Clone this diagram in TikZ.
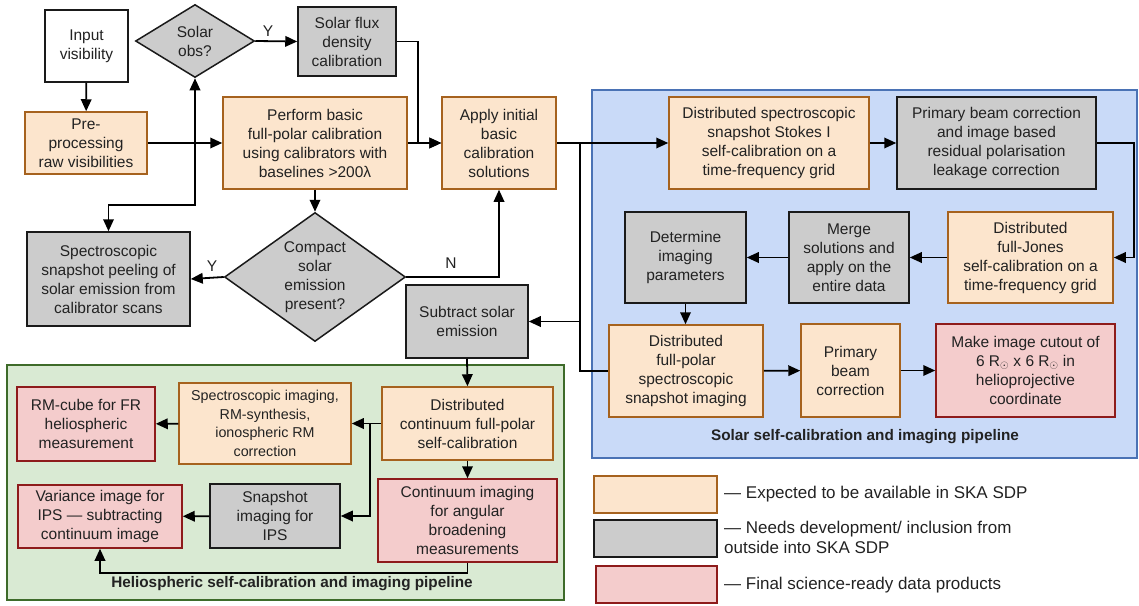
\documentclass[tikz,border=0pt]{standalone}
\usepackage{fontspec}
\setmainfont{Liberation Sans}
\usetikzlibrary{shapes.geometric, arrows.meta}
\definecolor{orfill}{HTML}{FCE5CD}
\definecolor{ordraw}{HTML}{A6621E}
\definecolor{grfill}{HTML}{CCCCCC}
\definecolor{grdraw}{HTML}{1A1A1A}
\definecolor{pkfill}{HTML}{F4CCCC}
\definecolor{pkdraw}{HTML}{8E1B1B}
\definecolor{bluefill}{HTML}{C9DAF8}
\definecolor{bluedraw}{HTML}{4A72B5}
\definecolor{greenfill}{HTML}{D9EAD3}
\definecolor{greendraw}{HTML}{3E6B2A}
\definecolor{txt}{HTML}{222222}
\begin{document}
\begin{tikzpicture}[x=1pt,y=-1pt,
  base/.style={draw, line width=1.5pt, inner sep=0pt, align=center, text=txt,
    font=\fontsize{15.5}{19}\selectfont},
  avail/.style={base, fill=orfill, draw=ordraw},
  dev/.style={base, fill=grfill, draw=grdraw},
  prod/.style={base, fill=pkfill, draw=pkdraw},
  plain/.style={base, fill=white, draw=grdraw},
  sz/.style 2 args={minimum width=#1, minimum height=#2},
  ln/.style={line width=1.8pt, draw=black},
  arr/.style={ln, -{Triangle[length=12pt,width=10.5pt]}},
  lbl/.style={text=txt, font=\fontsize{15.5}{19}\selectfont, inner sep=0pt},
  ttl/.style={text=txt, font=\bfseries\fontsize{15.3}{19}\selectfont, inner sep=0pt},
  lgt/.style={text=txt, font=\fontsize{17}{19.5}\selectfont, inner sep=0pt, anchor=west, align=left},
  panel/.style={line width=1.8pt}
]
\useasboundingbox (0,0) rectangle (1139,605);

% panels
\draw[panel, fill=bluefill, draw=bluedraw] (592,90) rectangle (1137,458);
\draw[panel, fill=greenfill, draw=greendraw] (7,365) rectangle (564,600);
\node[ttl] (soltitle) at (865,437) {Solar self-calibration and imaging pipeline};
\node[ttl] (heltitle) at (292,584) {Heliospheric self-calibration and imaging pipeline};

% top-left chain
\node[plain, sz={83pt}{72pt}] (inp) at (86.5,46) {Input\\visibility};
\node[dev, diamond, aspect=1.63, minimum width=119pt, minimum height=73pt] (sobs) at (195,41) {Solar\\obs?};
\node[dev, sz={98pt}{69pt}] (flux) at (347,41.5) {Solar flux\\density\\calibration};
\node[avail, sz={122pt}{62pt}] (pre) at (86,143) {Pre-\\processing\\raw visibilities};
\node[avail, sz={184pt}{92pt}] (perf) at (315,143) {Perform basic\\full-polar calibration\\using calibrators with\\baselines >200λ};
\node[avail, sz={114pt}{92pt}] (apply) at (499,143) {Apply initial\\basic\\calibration\\solutions};
\node[dev, diamond, aspect=1.4, minimum width=181pt, minimum height=129pt] (compact) at (315,277) {Compact\\solar\\emission\\present?};
\node[dev, sz={163pt}{94pt}] (peel) at (108.5,279) {Spectroscopic\\snapshot peeling of\\solar emission from\\calibrator scans};
\node[dev, sz={122pt}{73pt}] (subtr) at (467,321.5) {Subtract solar\\emission};

% solar pipeline
\node[avail, sz={200pt}{92pt}] (stokes) at (769,143) {Distributed spectroscopic\\snapshot Stokes I\\self-calibration on a\\time-frequency grid};
\node[dev, sz={199pt}{92pt}] (pbcorr) at (996.5,143) {Primary beam correction\\and image based\\residual polarisation\\leakage correction};
\node[avail, sz={165pt}{91pt}] (jones) at (1030.5,257.5) {Distributed\\full-Jones\\self-calibration on a\\time-frequency grid};
\node[dev, sz={120pt}{91pt}] (merge) at (849,257.5) {Merge\\solutions and\\apply on the\\entire data};
\node[dev, sz={121pt}{91pt}] (determ) at (685.5,257.5) {Determine\\imaging\\parameters};
\node[avail, sz={154pt}{92pt}] (fpol) at (686,371) {Distributed\\full-polar\\spectroscopic\\snapshot imaging};
\node[avail, sz={99pt}{93pt}] (pbeam) at (850.5,370.5) {Primary\\beam\\correction};
\node[prod, sz={179pt}{93pt}] (cutout) at (1025.5,370.5) {Make image cutout of\\6 R$_\odot$ x 6 R$_\odot$ in\\helioprojective\\coordinate};

% heliospheric pipeline
\node[avail, sz={171pt}{73pt}] (cont) at (467.5,423.5) {Distributed\\continuum full-polar\\self-calibration};
\node[avail, sz={172pt}{81pt}, font=\fontsize{14.3}{18.5}\selectfont] (specimg) at (265,423.5) {Spectroscopic imaging,\\RM-synthesis,\\ionospheric RM\\correction};
\node[prod, sz={138pt}{74pt}] (rmcube) at (86,424) {RM-cube for FR\\heliospheric\\measurement};
\node[prod, sz={179pt}{83pt}] (contimg) at (467.5,520.5) {Continuum imaging\\for angular\\broadening\\measurements};
\node[dev, sz={130pt}{64pt}] (snap) at (275,516) {Snapshot\\imaging for\\IPS};
\node[prod, sz={164pt}{63pt}] (var) at (100,516.5) {Variance image for\\IPS — subtracting\\continuum image};

% legend
\node[avail, sz={123pt}{37pt}] (lg1) at (655.5,494.5) {};
\node[dev, sz={123pt}{37pt}] (lg2) at (655.5,538.5) {};
\node[prod, sz={121pt}{37pt}] (lg3) at (656.5,584.5) {};
\node[lgt] (lt1) at (724,494) {— Expected to be available in SKA SDP};
\node[lgt] (lt2) at (724,537.5) {— Needs development/ inclusion from\\outside into SKA SDP};
\node[lgt] (lt3) at (724,585) {— Final science-ready data products};

% bend coordinates
\coordinate (fb1) at (418,41.5);
\coordinate (fb2) at (418,143);
\coordinate (ja) at (580,143);
\coordinate (jb) at (580,321.5);
\coordinate (jc) at (580,371);
\coordinate (pb1) at (1134,143);
\coordinate (pb2) at (1134,257.5);
\coordinate (nb) at (499,277);
\coordinate (j1) at (108.5,205);
\coordinate (j2) at (195,205);
\coordinate (cj) at (370,423.5);
\coordinate (cj2) at (370,516);
\coordinate (vb1) at (467.5,573);
\coordinate (vb2) at (100,573);

% connectors
\draw[arr] (inp) -- (pre);
\draw[arr] (pre) -- (perf);
\draw[arr] (sobs.east) -- (flux.west);
\node[lbl] (ylab1) at (268,31) {Y};
\draw[arr] (flux.east) -- (fb1) -- (fb2) -- (apply.west);
\draw[arr] (perf) -- (apply);
\draw[arr] (apply.east) -- (stokes.west);
\draw[ln] (ja) -- (jc) -- (fpol.west);
\draw[arr] (jb) -- (subtr.east);
\draw[arr] (stokes) -- (pbcorr);
\draw[arr] (pbcorr.east) -- (pb1) -- (pb2) -- (jones.east);
\draw[arr] (jones) -- (merge);
\draw[arr] (merge) -- (determ);
\draw[arr] (determ) -- (determ.south |- fpol.north);
\draw[arr] (fpol) -- (pbeam);
\draw[arr] (pbeam) -- (cutout);
\draw[arr] (perf.south) -- (compact.north);
\draw[arr] (compact.east) -- (nb) -- (apply.south);
\node[lbl] (nlab) at (451,263) {N};
\draw[arr] (compact.west) -- (peel.east);
\node[lbl] (ylab2) at (212,266) {Y};
\draw[ln, {Triangle[length=12pt,width=10.5pt]}-{Triangle[length=12pt,width=10.5pt]}] (peel.north) -- (j1) -- (j2) -- (sobs.south);
\draw[arr] (subtr.south) -- (cont.north);
\draw[arr] (cont.west) -- (specimg.east);
\draw[arr] (cj) -- (cj2) -- (snap.east);
\draw[arr] (specimg) -- (rmcube);
\draw[arr] (snap) -- (var);
\draw[arr] (cont) -- (contimg);
\draw[arr] (contimg.south) -- (vb1) -- (vb2) -- (var.south);
\end{tikzpicture}
\end{document}
